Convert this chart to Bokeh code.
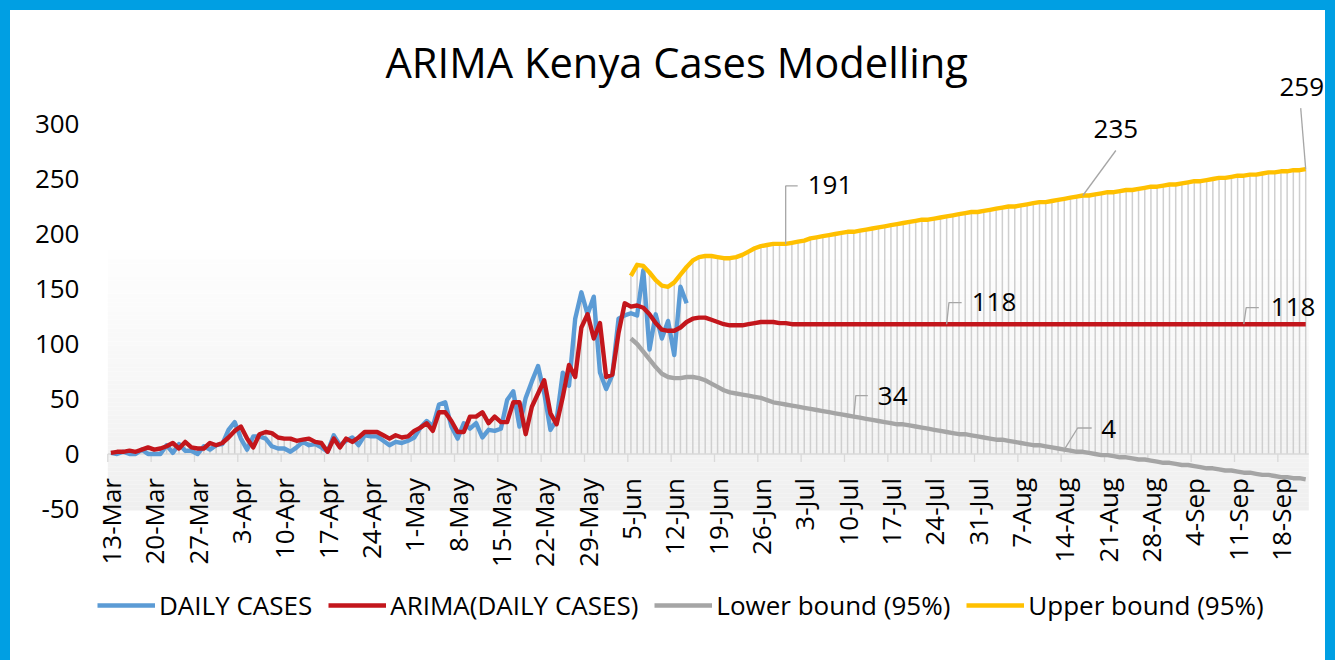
import numpy as np
import pandas as pd
from bokeh.plotting import figure
from bokeh.models import Range1d, FixedTicker, Legend, LegendItem, GlobalInlineStyleSheet, Label
from bokeh.core.properties import value
from bokeh.embed import file_html
from bokeh.resources import INLINE

# ---------------- data ----------------
start_date = "2020-03-13"
forecast_start = "2020-06-05"

daily_cases = [
    1, 0, 2, 0, 0, 4, 0, 0, 0, 8,
    1, 9, 3, 3, 0, 7, 4, 8, 9, 22,
    29, 14, 4, 16, 16, 14, 7, 5, 5, 2,
    6, 11, 8, 9, 6, 2, 17, 8, 12, 15,
    8, 17, 16, 16, 12, 8, 11, 10, 12, 15,
    24, 30, 25, 45, 47, 25, 14, 28, 23, 28,
    15, 22, 21, 23, 49, 57, 25, 51, 66, 80,
    55, 22, 31, 74, 62, 123, 147, 127, 143, 74,
    59, 72, 123, 126, 128, 126, 167, 95, 127, 105,
    121, 90, 152, 137,
]

arima = [
    1, 2, 2, 3, 2, 4, 6, 4, 5, 7,
    10, 5, 11, 6, 5, 5, 10, 8, 10, 15,
    21, 25, 14, 6, 18, 20, 19, 15, 14, 14,
    12, 13, 14, 11, 10, 2, 14, 6, 14, 11,
    15, 20, 20, 20, 17, 14, 17, 15, 16, 21,
    24, 28, 21, 38, 38, 30, 20, 20, 34, 34,
    38, 28, 34, 29, 29, 47, 47, 18, 43, 55,
    67, 37, 27, 52, 81, 70, 115, 127, 105, 119,
    70, 72, 110, 137, 134, 135, 133, 127, 119, 113,
    112, 112, 115, 120,
    123, 124, 124, 122, 120, 118, 117, 117, 117, 118,
    119, 120, 120, 120, 119, 119, 118,
    118, 118, 118, 118, 118, 118, 118, 118, 118, 118,
    118, 118, 118, 118, 118, 118, 118, 118, 118, 118,
    118, 118, 118, 118, 118, 118, 118, 118, 118, 118,
    118, 118, 118, 118, 118, 118, 118, 118, 118, 118,
    118, 118, 118, 118, 118, 118, 118, 118, 118, 118,
    118, 118, 118, 118, 118, 118, 118, 118, 118, 118,
    118, 118, 118, 118, 118, 118, 118, 118, 118, 118,
    118, 118, 118, 118, 118, 118, 118, 118, 118, 118,
    118, 118, 118,
]

lower_bound = [
    105, 100, 93, 86, 79, 73, 70, 69, 69, 70,
    70, 69, 67, 64, 61, 58, 56, 55, 54, 53,
    52, 51, 49, 47, 46, 45, 44, 43, 42, 41,
    40, 39, 38, 37, 36, 35, 34, 33, 32, 31,
    30, 29, 28, 27, 27, 26, 25, 24, 23, 22,
    21, 20, 19, 18, 18, 17, 16, 15, 14, 13,
    13, 12, 11, 10, 9, 8, 8, 7, 6, 5,
    4, 3, 2, 2, 1, 0, -1, -1, -2, -3,
    -3, -4, -5, -5, -6, -7, -8, -8, -9, -10,
    -10, -11, -12, -13, -13, -14, -15, -15, -16, -17,
    -17, -18, -19, -19, -20, -21, -21, -22, -22, -23,
]

upper_bound = [
    162, 172, 171, 165, 158, 153, 152, 156, 163, 170,
    176, 179, 180, 180, 179, 178, 178, 179, 181, 184,
    187, 189, 190, 191, 191, 191, 192, 193, 194, 196,
    197, 198, 199, 200, 201, 202, 202, 203, 204, 205,
    206, 207, 208, 209, 210, 211, 212, 213, 213, 214,
    215, 216, 217, 218, 219, 220, 220, 221, 222, 223,
    224, 225, 225, 226, 227, 228, 229, 229, 230, 231,
    232, 233, 234, 235, 235, 236, 237, 238, 238, 239,
    240, 240, 241, 242, 243, 243, 244, 245, 245, 246,
    247, 248, 248, 249, 250, 251, 251, 252, 253, 253,
    254, 254, 255, 256, 256, 257, 257, 258, 258, 259,
]

tick_labels = [
    "13-Mar", "20-Mar", "27-Mar", "3-Apr", "10-Apr", "17-Apr", "24-Apr",
    "1-May", "8-May", "15-May", "22-May", "29-May", "5-Jun", "12-Jun",
    "19-Jun", "26-Jun", "3-Jul", "10-Jul", "17-Jul", "24-Jul", "31-Jul",
    "7-Aug", "14-Aug", "21-Aug", "28-Aug", "4-Sep", "11-Sep", "18-Sep",
]
y_ticks = [-50, 0, 50, 100, 150, 200, 250, 300]

series_names = ["DAILY CASES", "ARIMA(DAILY CASES)", "Lower bound (95%)", "Upper bound (95%)"]
labelled_points = [  # (series, date)
    ("upper", "2020-06-30"),
    ("upper", "2020-08-17"),
    ("upper", "2020-09-22"),
    ("arima", "2020-07-26"),
    ("arima", "2020-09-12"),
    ("lower", "2020-07-11"),
    ("lower", "2020-08-14"),
]

# ---------------- layout / style ----------------
FONT = "Open Sans"
W, H = 1315, 648
BL, BR, BT, BB = 85, 0, 56, 8
FRAME_W = W - BL - BR
FRAME_H = H - BT - BB
PXD = 1201 / 194          # px per day
PXV = 1.1                 # px per case
LEFT_PAD = 12.3           # px between frame edge and first category boundary
ZERO_FROM_TOP = 387.5     # px from frame top to the zero line
COLORS = ["#5b9bd5", "#c3161c", "#a5a5a5", "#ffc000"]
TXT = "26px"

# leader paths and text anchors in px (right, up) relative to the labelled point
label_layout = [
    dict(path=[(0, 0), (0, 58), (12, 58)], text=(22, 59), align="left"),
    dict(path=[(0, 0), (33, 45)], text=(33, 67), align="center"),
    dict(path=[(0, 0), (-5, 61)], text=(-4, 82), align="center"),
    dict(path=[(0, 0), (2.3, 21.6), (15, 21.6)], text=(25, 22), align="left"),
    dict(path=[(0, 0), (2.4, 16.6), (15, 16.6)], text=(27, 17), align="left"),
    dict(path=[(0, 0), (2, 21), (14, 21)], text=(24, 21), align="left"),
    dict(path=[(0, 0), (13.4, 21.6), (27.4, 21.6)], text=(37, 21), align="left"),
]

# ---------------- derived positions ----------------
n_days = len(arima)
dates = pd.date_range(start_date, periods=n_days)
date_keys = [d.strftime("%Y-%m-%d") for d in dates]
short_keys = [f"{d.day}-{d:%b}" for d in dates]
tick_days = [short_keys.index(t) for t in tick_labels]
days = np.arange(n_days)
hist_days = np.arange(len(daily_cases))
fc0 = date_keys.index(forecast_start)
fc_days = np.arange(fc0, fc0 + len(upper_bound))

C0, C1 = -0.5, n_days - 0.5          # category area
X0 = C0 - LEFT_PAD / PXD
X1 = X0 + FRAME_W / PXD
Y1 = ZERO_FROM_TOP / PXV
Y0 = Y1 - FRAME_H / PXV

p = figure(width=W, height=H, x_range=Range1d(X0, X1), y_range=Range1d(Y0, Y1),
           output_backend="svg", toolbar_location=None, x_axis_location=None,
           min_border_left=BL, min_border_right=BR, min_border_top=BT, min_border_bottom=BB,
           background_fill_color="white", border_fill_color="white")
p.outline_line_color = None
p.grid.visible = False
p.stylesheets = [GlobalInlineStyleSheet(css=(
    "html, body {background:#ffffff;} "
    "body {margin:0 !important; border-style:solid; border-color:#009fe3; "
    "border-width:10px 10px 0 10px;}"))]

# title
p.title.text = "ARIMA Kenya Cases Modelling"
p.title.text_font = FONT
p.title.text_font_size = "41.7px"
p.title.text_font_style = "normal"
p.title.text_color = "#000000"
p.title.align = "left"
p.title.offset = 290
p.title.standoff = -46

# y axis
yax = p.yaxis[0]
yax.ticker = FixedTicker(ticks=y_ticks)
yax.major_label_overrides = {t: str(t) for t in y_ticks}
yax.axis_line_color = None
yax.major_tick_line_color = None
yax.minor_tick_line_color = None
yax.major_label_standoff = 10
yax.major_label_text_font = FONT
yax.major_label_text_font_size = TXT
yax.major_label_text_color = "#000000"

# plot-area gradient
g_top, g_bot = 185, -51.4
n_strip = 60
edges = np.linspace(g_bot, g_top, n_strip + 1)
cols = []
for i in range(n_strip):
    t = i / (n_strip - 1)
    c = int(round(0xef + (0xfe - 0xef) * t))
    cols.append("#%02x%02x%02x" % (c, c, c))
p.quad(left=C0, right=C1, bottom=edges[:-1], top=edges[1:], fill_color=cols, line_color=None)

# drop lines from category axis to the highest point of each day
stack = np.full((3, n_days), np.nan)
stack[0, hist_days] = daily_cases
stack[1, :] = arima
stack[2, fc_days] = upper_bound
drop_top = np.nanmax(stack, axis=0)
p.segment(x0=days, y0=0, x1=days, y1=drop_top, line_color="#cfcfcf", line_width=1.5)

# category axis line at zero and ticks at week boundaries
p.segment(x0=C0, y0=0, x1=C1, y1=0, line_color="#d9d9d9", line_width=1.3)
tb = np.array(tick_days) - 0.5
p.segment(x0=tb, y0=0, x1=tb, y1=-8 / PXV, line_color="#d9d9d9", line_width=1.3)
p.text(x=tick_days, y=0, text=tick_labels, angle=np.pi / 2, text_align="right",
       text_baseline="middle", y_offset=24, text_font=value(FONT), text_font_size=TXT,
       text_color="#000000")

# series
lw = 4.4
r_blue = p.line(hist_days, daily_cases, line_color=COLORS[0], line_width=lw, line_join="round")
r_red = p.line(days, arima, line_color=COLORS[1], line_width=lw, line_join="round")
r_low = p.line(fc_days, lower_bound, line_color=COLORS[2], line_width=lw, line_join="round")
r_up = p.line(fc_days, upper_bound, line_color=COLORS[3], line_width=lw, line_join="round")

# data labels with leader lines
series_map = {"arima": (days, arima), "lower": (fc_days, lower_bound), "upper": (fc_days, upper_bound)}
lx, ly = [], []
for (s, d), lay in zip(labelled_points, label_layout):
    xs_all, ys_all = series_map[s]
    dd = date_keys.index(d)
    v = ys_all[list(xs_all).index(dd)]
    lx.append([dd + a / PXD for a, b in lay["path"]])
    ly.append([v + b / PXV for a, b in lay["path"]])
    p.add_layout(Label(x=dd, y=v, x_offset=lay["text"][0], y_offset=lay["text"][1],
                       text=str(int(round(v))), text_align=lay["align"],
                       text_baseline="middle", text_font=FONT, text_font_size=TXT,
                       text_color="#000000"))
p.multi_line(xs=lx, ys=ly, line_color="#a6a6a6", line_width=1.3)

# legend
legend = Legend(items=[LegendItem(label=n, renderers=[r]) for n, r in
                       zip(series_names, [r_blue, r_red, r_low, r_up])],
                orientation="horizontal", location=(2, 27),
                background_fill_alpha=0, border_line_alpha=0,
                glyph_width=58, glyph_height=24, label_standoff=4, spacing=16,
                padding=0, margin=0, label_text_font=FONT, label_text_font_size=TXT,
                label_text_color="#000000")
p.add_layout(legend)

open("out.html", "w").write(file_html(p, INLINE))
